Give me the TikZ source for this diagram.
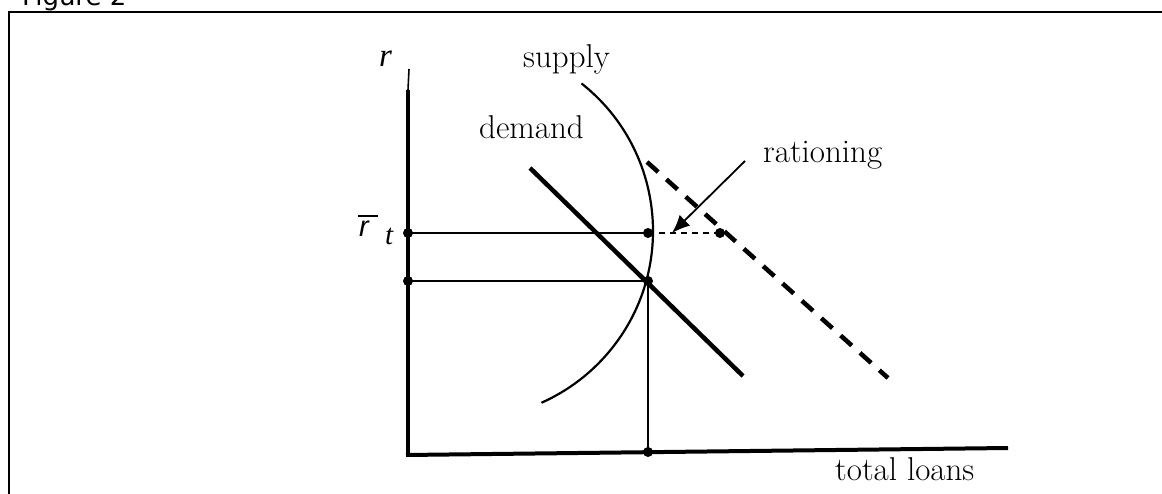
\documentclass[tikz,border=0pt]{standalone}
\usepackage{fontspec}
\newfontfamily\figfont{DejaVu Sans}
\newfontfamily\timesfont{Liberation Serif}
\newfontfamily\arialfont{Liberation Sans}
\usetikzlibrary{arrows.meta}
\tikzset{
  axisline/.style={line width=4pt},
  thinline/.style={line width=1.6pt},
  curveline/.style={line width=2.2pt},
  dotnode/.style={circle,fill=black,inner sep=0pt,minimum size=10pt},
  lbl/.style={inner sep=0pt,font=\fontsize{33}{40}\selectfont},
  demandline/.style={line width=4.5pt},
  shiftline/.style={line width=4.5pt,dash pattern=on 15pt off 11pt},
  gapline/.style={line width=1.6pt,dash pattern=on 6pt off 5pt},
  arrowline/.style={line width=1.8pt,-{Latex[length=18pt,width=15pt]}}
}
\begin{document}
\begin{tikzpicture}[x=1pt,y=-1pt]
\useasboundingbox (0,0) rectangle (1162,494);
\clip (0,0) rectangle (1162,494);
\fill[white] (0,0) rectangle (1162,494);
% frame and title
\draw[line width=2.5pt] (9,500) -- (9,12) -- (1170,12);
\node[anchor=base west,inner sep=0pt,font=\figfont\fontsize{26}{30}\selectfont] (title) at (22,6) {Figure 2};
% axes
\coordinate (ytop) at (409,69);
\coordinate (ythick) at (408,90);
\coordinate (origin) at (408,455);
\coordinate (xend) at (1008,448);
\draw[thinline] (ytop) -- (ythick);
\draw[axisline] (ythick) -- (origin);
\draw[axisline] ([xshift=-2pt]origin) -- (xend);
% dots
\node[dotnode] (ya) at (408,233) {};
\node[dotnode] (yb) at (408,281) {};
\node[dotnode] (sa) at (648,233) {};
\node[dotnode] (sb) at (648,281) {};
\node[dotnode] (ra) at (720,233) {};
\node[dotnode] (xb) at (648,452) {};
% supply curve
\draw[curveline] (465,231) ++(-51.7:188) arc[start angle=-51.7,end angle=66,radius=188];
% demand lines
\coordinate (da) at (530,168);
\coordinate (db) at (743,376);
\draw[demandline] (da) -- (db);
\coordinate (na) at (647,162);
\coordinate (nb) at (888,378);
\draw[shiftline] (na) -- (nb);
% connectors
\draw[thinline] (ya.center) -- (sa.center);
\draw[thinline] (yb.center) -- (sb.center);
\draw[gapline] (sa.center) -- (ra.center);
\draw[thinline] (sb.center) -- (xb.center);
\coordinate (arrs) at (745,161);
\coordinate (arre) at (672,233);
\draw[arrowline] (arrs) -- (arre);
% labels
\node[lbl,anchor=base west,font=\timesfont\itshape\fontsize{33}{40}\selectfont] (rlab) at (379,67) {r};
\node[lbl,anchor=base west,font=\arialfont\itshape\fontsize{29}{36}\selectfont] (rbar) at (359,237) {r};
\coordinate (bara) at (358,216);
\coordinate (barb) at (378,216);
\draw[line width=2.2pt] (bara) -- (barb);
\node[lbl,anchor=base west,font=\timesfont\itshape\fontsize{29}{36}\selectfont] (tlab) at (385,245) {t};
\node[lbl,anchor=base west] (supply) at (523,68) {supply};
\node[lbl,anchor=base east] (demand) at (584,139) {demand};
\node[lbl,anchor=base west] (ration) at (763,163) {rationing};
\node[lbl,anchor=base west] (loans) at (835,480) {total loans};
\end{tikzpicture}
\end{document}
